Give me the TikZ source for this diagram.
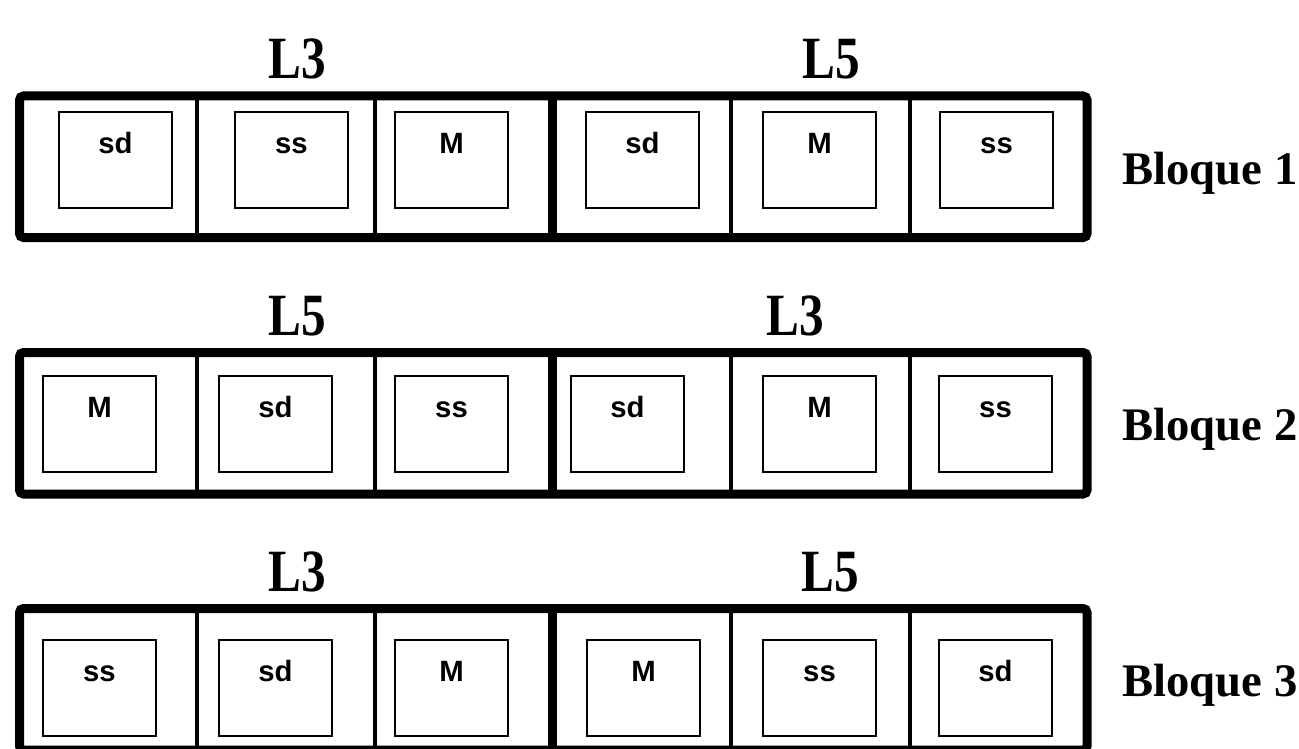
\documentclass[tikz,border=0pt]{standalone}
\usepackage{fontspec}
\setmainfont{Liberation Serif}
\newfontfamily\sansb{Liberation Sans}
\newfontfamily\labf[FakeStretch=0.82]{Liberation Serif}
\begin{document}
\begin{tikzpicture}[x=0.75pt,y=-0.75pt,
  blk/.style={draw, line width=6.75pt, rounded corners=3pt},
  divthin/.style={draw, line width=3pt},
  divthick/.style={draw, line width=6.75pt},
  sq/.style={draw, line width=1.5pt, minimum width=84.75pt, minimum height=72pt, inner sep=0pt, anchor=north west},
  txt/.style={font=\sansb\bfseries\fontsize{22}{22}\selectfont, anchor=base, inner sep=0pt},
  lab/.style={font=\labf\bfseries\fontsize{45}{45}\selectfont, anchor=base, inner sep=0pt},
  blq/.style={font=\bfseries\fontsize{35}{35}\selectfont, anchor=base, inner sep=0pt}]
\useasboundingbox (0,0) rectangle (1299,749);

\foreach \b/\top/\sqt/\la/\lax/\lb/\lbx/\ta/\tb/\tc/\td/\te/\tf/\xa/\xb/\xc/\xd/\xe/\xf in {
  1/96/110.5/L3/297/L5/831/sd/ss/M/sd/M/ss/58/234/394/585/762/939,
  2/352.5/374.5/L5/297/L3/795/M/sd/ss/sd/M/ss/42/218/394/570/762/938,
  3/608.5/638.5/L3/297/L5/830/ss/sd/M/M/ss/sd/42/218/394/586/762/938}{
  % outer block
  \coordinate (b\b nw) at (19.5,\top);
  \coordinate (b\b se) at (1087,\top+141.5);
  \draw[blk] (b\b nw) rectangle (b\b se);
  % dividers
  \foreach \k/\dx/\st in {1/197/divthin,2/375/divthin,3/552/divthick,4/731/divthin,5/910/divthin}{
    \coordinate (b\b d\k t) at (\dx,\top);
    \coordinate (b\b d\k b) at (\dx,\top+141.5);
    \draw[\st] (b\b d\k t) -- (b\b d\k b);
  }
  % squares and texts
  \foreach \k/\sx/\tt in {1/\xa/\ta,2/\xb/\tb,3/\xc/\tc,4/\xd/\td,5/\xe/\te,6/\xf/\tf}{
    \node[sq] (b\b s\k) at (\sx,\sqt) {};
    \node[txt] (b\b t\k) at ([yshift=-31.9pt]b\b s\k.north) {\tt};
  }
  % top labels
  \node[lab] (b\b la) at (\lax,\top-17) {\la};
  \node[lab] (b\b lb) at (\lbx,\top-17) {\lb};
  % block name
  \node[blq] (b\b name) at (1210,\top+88) {Bloque \b};
}
\end{tikzpicture}
\end{document}
